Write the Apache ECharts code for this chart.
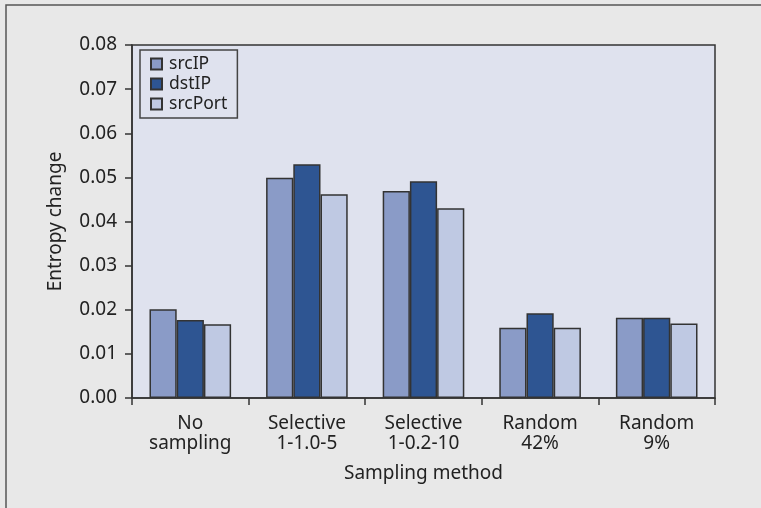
<!DOCTYPE html>
<html>
<head>
<meta charset="utf-8">
<script src="https://cdn.jsdelivr.net/npm/echarts@6/dist/echarts.min.js"></script>
<style>html,body{margin:0;padding:0;background:#e8e8e8;}#c{width:761px;height:508px;}</style>
</head>
<body>
<div id="c"></div>
<script>
const categories = ['No\nsampling', 'Selective\n1-1.0-5', 'Selective\n1-0.2-10', 'Random\n42%', 'Random\n9%'];
const srcIP   = [0.0201, 0.0499, 0.0469, 0.0159, 0.0182];
const dstIP   = [0.0177, 0.0530, 0.0491, 0.0192, 0.0182];
const srcPort = [0.0167, 0.0462, 0.0430, 0.0159, 0.0169];
const seriesNames = ['srcIP', 'dstIP', 'srcPort'];
const seriesColors = ['#8a9bc7', '#2e5592', '#bfc9e3'];
const yTicks = { min: 0, max: 0.08, interval: 0.01 };

const FONT = 'Noto Sans';
const chart = echarts.init(document.getElementById('c'), null, { renderer: 'canvas' });
const dataSets = [srcIP, dstIP, srcPort];
chart.setOption({
  backgroundColor: '#e8e8e8',
  animation: false,
  textStyle: { fontFamily: FONT },
  graphic: [{
    type: 'rect', z: -1,
    shape: { x: 6, y: 5, width: 800, height: 600 },
    style: { fill: 'none', stroke: '#555', lineWidth: 1.5 }
  }],
  grid: {
    left: 132, right: 46, top: 45, bottom: 110,
    show: true, backgroundColor: '#dfe2ee', borderColor: '#333', borderWidth: 1.5
  },
  legend: {
    orient: 'vertical', left: 140, top: 50,
    data: seriesNames,
    backgroundColor: '#dfe2ee', borderColor: '#444', borderWidth: 1.5,
    padding: [5, 10, 5, 10],
    itemWidth: 11, itemHeight: 11, itemGap: 2,
    icon: 'rect',
    textStyle: { fontSize: 17.5, color: '#222', fontFamily: FONT, padding: [0, 0, 0, 2] }
  },
  xAxis: {
    type: 'category', data: categories,
    name: 'Sampling method', nameLocation: 'middle', nameGap: 66,
    nameTextStyle: { fontSize: 19, color: '#222', fontFamily: FONT },
    axisLine: { lineStyle: { color: '#333', width: 1.5 } },
    axisTick: { show: true, length: 7, interval: 0, lineStyle: { color: '#333', width: 1.5 } },
    axisLabel: { fontSize: 19, color: '#222', lineHeight: 20, margin: 16, interval: 0, fontFamily: FONT }
  },
  yAxis: {
    type: 'value', min: yTicks.min, max: yTicks.max, interval: yTicks.interval,
    name: 'Entropy change', nameLocation: 'middle', nameGap: 67,
    nameTextStyle: { fontSize: 19, color: '#222', fontFamily: FONT },
    splitLine: { show: false },
    axisLine: { show: true, lineStyle: { color: '#333', width: 1.5 } },
    axisTick: { show: true, length: 7, lineStyle: { color: '#333', width: 1.5 } },
    axisLabel: { fontSize: 19, color: '#222', margin: 15, fontFamily: FONT,
      formatter: v => v.toFixed(2) }
  },
  series: seriesNames.map((n, i) => ({
    name: n, type: 'bar', data: dataSets[i],
    barGap: '0%', barCategoryGap: '30%',
    itemStyle: { color: seriesColors[i], borderColor: '#333', borderWidth: 1.5 }
  }))
});
</script>
</body>
</html>
